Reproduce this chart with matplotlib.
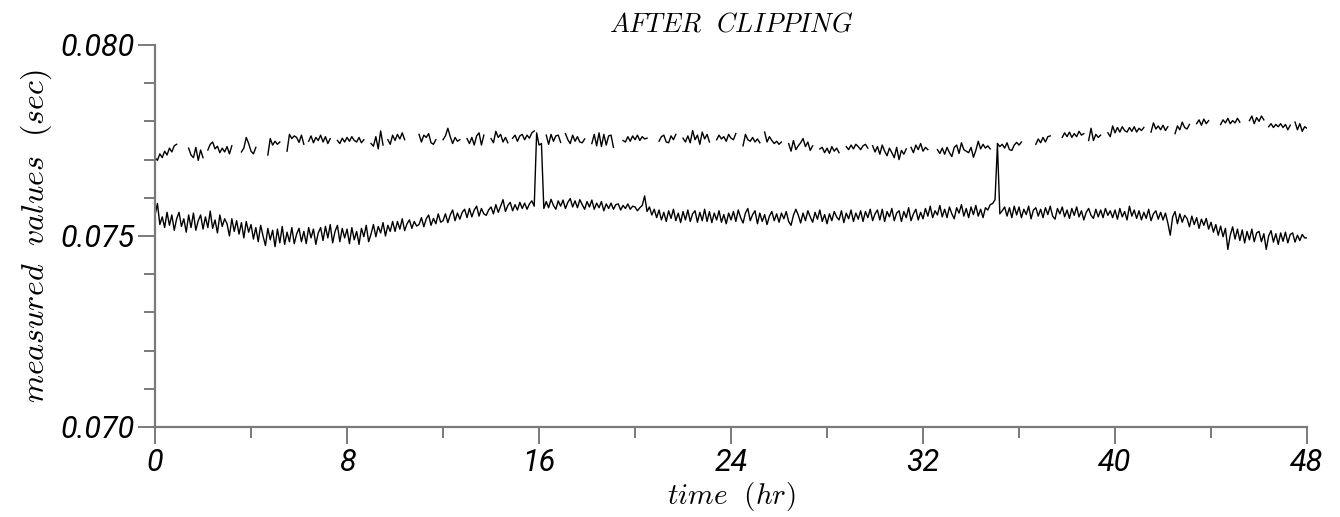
import numpy as np
import matplotlib
matplotlib.use('Agg')
import matplotlib.pyplot as plt
from matplotlib.ticker import MultipleLocator, FixedLocator

plt.rcParams['mathtext.fontset'] = 'cm'

n = np.nan

# sampled every 0.1 hr, values in ms (one row = one hour)
lower_ms = [
    75.55, 75.85, 75.30, 75.50, 75.22, 75.62, 75.28, 75.55, 75.15, 75.45,
    75.62, 75.25, 75.45, 75.10, 75.55, 75.22, 75.60, 75.15, 75.40, 75.55,
    75.18, 75.50, 75.22, 75.65, 75.20, 75.42, 75.08, 75.55, 75.25, 75.45,
    75.32, 75.00, 75.45, 75.12, 75.40, 75.05, 75.35, 74.95, 75.38, 75.10,
    75.30, 74.92, 75.22, 74.85, 75.28, 75.00, 74.75, 75.20, 74.90, 75.15,
    74.72, 75.18, 74.82, 75.25, 74.78, 75.10, 74.85, 75.22, 74.80, 75.05,
    75.20, 74.85, 75.12, 74.80, 75.22, 74.95, 75.18, 74.78, 75.08, 75.22,
    74.88, 75.25, 74.95, 75.30, 74.82, 75.12, 75.28, 74.85, 75.20, 74.95,
    75.18, 74.80, 75.22, 74.90, 75.12, 74.78, 75.20, 74.98, 75.28, 74.85,
    75.05, 75.30, 74.98, 75.25, 75.08, 75.35, 75.00, 75.28, 75.12, 75.38,
    75.12, 75.38, 75.18, 75.45, 75.14, 75.32, 75.42, 75.20, 75.38, 75.26,
    75.30, 75.48, 75.24, 75.45, 75.55, 75.28, 75.46, 75.32, 75.58, 75.36,
    75.40, 75.58, 75.35, 75.55, 75.68, 75.40, 75.60, 75.44, 75.62, 75.70,
    75.48, 75.72, 75.50, 75.68, 75.78, 75.52, 75.72, 75.58, 75.54, 75.68,
    75.76, 75.58, 75.82, 75.62, 75.78, 75.95, 75.64, 75.80, 75.88, 75.66,
    75.82, 75.68, 75.88, 75.72, 75.86, 75.70, 75.84, 75.92, 75.78, 77.70,
    77.38, 77.42, 75.72, 75.90, 75.74, 75.96, 75.80, 75.70, 75.92, 75.78,
    75.94, 75.72, 75.88, 75.98, 75.76, 75.92, 75.74, 75.95, 75.82, 75.70,
    75.90, 75.76, 75.94, 75.70, 75.86, 75.74, 75.90, 75.66, 75.84, 75.72,
    75.86, 75.70, 75.82, 75.84, 75.68, 75.80, 75.72, 75.84, 75.70, 75.78,
    75.76, 75.66, 75.74, 75.80, 76.05, 75.64, 75.76, 75.55, 75.70, 75.48,
    75.68, 75.42, 75.62, 75.38, 75.66, 75.46, 75.70, 75.40, 75.60, 75.35,
    75.64, 75.42, 75.68, 75.38, 75.58, 75.66, 75.36, 75.62, 75.40, 75.70,
    75.38, 75.64, 75.35, 75.60, 75.42, 75.66, 75.36, 75.56, 75.32, 75.60,
    75.42, 75.64, 75.38, 75.68, 75.48, 75.34, 75.60, 75.72, 75.40, 75.56,
    75.66, 75.32, 75.60, 75.38, 75.56, 75.30, 75.52, 75.64, 75.40, 75.58,
    75.36, 75.60, 75.45, 75.64, 75.38, 75.28, 75.54, 75.70, 75.55, 75.34,
    75.60, 75.40, 75.66, 75.50, 75.36, 75.62, 75.44, 75.68, 75.38, 75.56,
    75.32, 75.58, 75.40, 75.64, 75.50, 75.42, 75.66, 75.35, 75.60, 75.45,
    75.68, 75.38, 75.60, 75.44, 75.66, 75.38, 75.64, 75.48, 75.70, 75.40,
    75.58, 75.68, 75.42, 75.70, 75.38, 75.64, 75.50, 75.72, 75.40, 75.60,
    75.66, 75.38, 75.64, 75.48, 75.74, 75.40, 75.58, 75.70, 75.42, 75.62,
    75.45, 75.72, 75.52, 75.78, 75.48, 75.66, 75.55, 75.80, 75.50, 75.70,
    75.48, 75.76, 75.58, 75.45, 75.74, 75.60, 75.82, 75.52, 75.72, 75.48,
    75.76, 75.56, 75.80, 75.52, 75.70, 75.48, 75.74, 75.68, 75.82, 75.85,
    75.95, 77.40, 75.58, 75.66, 75.76, 75.52, 75.74, 75.48, 75.78, 75.55,
    75.76, 75.48, 75.70, 75.56, 75.78, 75.45, 75.68, 75.74, 75.52, 75.70,
    75.48, 75.74, 75.56, 75.78, 75.52, 75.44, 75.72, 75.58, 75.76, 75.50,
    75.68, 75.46, 75.72, 75.54, 75.76, 75.50, 75.66, 75.42, 75.62, 75.72,
    75.54, 75.46, 75.70, 75.50, 75.68, 75.48, 75.72, 75.54, 75.66, 75.48,
    75.68, 75.44, 75.72, 75.50, 75.64, 75.42, 75.78, 75.52, 75.68, 75.46,
    75.66, 75.42, 75.62, 75.46, 75.70, 75.40, 75.58, 75.66, 75.44, 75.62,
    75.42, 75.60, 75.34, 75.02, 75.50, 75.64, 75.32, 75.58, 75.36, 75.54,
    75.46, 75.24, 75.52, 75.30, 75.48, 75.20, 75.44, 75.28, 75.46, 75.18,
    75.36, 75.10, 75.30, 75.02, 75.26, 74.98, 75.20, 74.65, 75.02, 75.24,
    74.92, 75.18, 74.88, 75.16, 74.82, 75.12, 74.90, 75.18, 74.85, 75.08,
    75.12, 74.85, 75.06, 74.65, 75.00, 75.14, 74.84, 75.06, 74.78, 75.08,
    74.86, 75.10, 74.82, 75.04, 75.08, 74.84, 75.02, 74.88, 75.04, 74.95,
    74.95,
]

# clipped samples are left out (nan)
upper_ms = [
    77.05, 76.98, 77.15, 77.05, 77.22, 77.12, 77.30, 77.20, 77.36, 77.40,
    n, n, n, n, 77.30, 77.12, 77.05, 77.32, 76.98, 77.25,
    77.05, n, 77.25, 77.40, 77.46, 77.28, 77.35, 77.18, 77.30, 77.20,
    77.34, 77.15, 77.36, n, n, n, 77.20, 77.30, 77.58, 77.42,
    77.22, 77.15, 77.32, n, n, n, n, 77.12, 77.55, 77.38,
    77.48, 77.40, 77.46, n, n, 77.22, 77.66, 77.55, 77.62, 77.58,
    77.45, 77.64, 77.40, n, 77.48, 77.62, 77.44, 77.58, 77.50, 77.64,
    77.46, 77.60, 77.42, 77.55, n, n, 77.50, 77.42, 77.56, 77.46,
    77.58, 77.48, 77.60, 77.50, 77.46, 77.58, 77.44, 77.52, n, n,
    77.42, 77.35, 77.60, 77.28, 77.75, 77.38, n, 77.52, 77.40, 77.64,
    77.50, 77.66, 77.54, 77.70, 77.52, n, n, n, n, n,
    77.66, 77.46, 77.64, 77.58, 77.68, 77.44, 77.40, 77.52, n, n,
    77.52, 77.62, 77.82, 77.60, 77.42, 77.58, 77.48, 77.52, n, n,
    77.55, 77.42, 77.58, 77.38, 77.62, 77.70, 77.38, 77.64, n, n,
    77.55, 77.44, 77.74, 77.58, 77.66, 77.46, 77.58, 77.44, n, 77.56,
    77.64, 77.48, 77.62, 77.66, 77.52, 77.64, 77.56, 77.70, 77.75, n,
    n, n, n, 77.64, 77.40, 77.66, 77.48, 77.62, 77.64, 77.45,
    n, 77.68, 77.52, 77.42, 77.64, 77.48, 77.60, 77.46, 77.44, 77.54,
    n, n, 77.42, 77.66, 77.36, 77.70, 77.34, 77.66, 77.38, 77.62,
    77.64, 77.32, n, n, n, 77.50, 77.46, 77.60, 77.48, 77.62,
    77.52, 77.64, 77.50, 77.60, 77.54, 77.56, n, n, n, n,
    77.48, 77.60, 77.64, 77.46, 77.44, 77.62, 77.52, 77.66, n, n,
    77.56, 77.46, 77.62, 77.44, 77.76, 77.52, 77.64, 77.40, 77.72, 77.54,
    77.66, 77.46, n, n, 77.52, 77.64, 77.54, 77.60, 77.48, 77.66,
    77.56, 77.52, 77.68, n, n, 77.36, 77.66, 77.52, 77.48, 77.58,
    77.46, 77.54, 77.44, n, 77.72, 77.46, 77.60, 77.50, 77.42, 77.48,
    77.40, 77.46, n, n, 77.42, 77.22, 77.50, 77.26, 77.36, 77.44,
    77.55, 77.34, 77.46, 77.24, 77.36, n, n, 77.28, 77.32, 77.18,
    77.30, 77.16, 77.34, 77.22, 77.30, 77.18, n, n, 77.34, 77.26,
    77.38, 77.28, 77.40, 77.34, 77.26, 77.36, 77.40, 77.30, n, 77.36,
    77.20, 77.34, 77.14, 77.38, 77.22, 77.10, 77.30, 77.18, 77.05, 77.32,
    77.00, 77.24, 77.14, 77.28, n, 77.32, 77.18, 77.38, 77.26, 77.42,
    77.22, 77.32, 77.26, n, n, n, 77.26, 77.16, 77.30, 77.14,
    77.32, 77.18, 77.08, 77.32, 77.38, 77.16, 77.44, 77.26, 77.22, 77.18,
    77.32, 77.06, 77.24, 77.48, 77.28, 77.40, 77.30, 77.36, 77.28, n,
    n, 77.42, 77.34, 77.40, 77.30, 77.44, 77.26, 77.24, 77.38, 77.45,
    77.38, 77.46, n, n, n, n, n, 77.40, 77.54, 77.44,
    77.58, 77.46, 77.60, 77.62, n, n, n, n, 77.58, 77.70,
    77.60, 77.72, 77.58, 77.68, 77.60, 77.74, 77.64, 77.68, n, 77.50,
    77.82, 77.50, 77.66, 77.58, 77.64, n, n, 77.70, 77.60, 77.88,
    77.70, 77.84, 77.72, 77.86, 77.76, 77.72, 77.84, 77.74, 77.86, 77.72,
    77.82, 77.76, 77.84, n, n, 77.72, 77.96, 77.80, 77.88, 77.78,
    77.90, 77.76, 77.86, n, n, 77.68, 77.88, 77.78, 77.98, 77.84,
    77.80, 77.92, n, n, 77.94, 78.04, 77.90, 78.06, 77.94, 78.02,
    n, n, n, n, 77.92, 78.04, 77.96, 78.08, 77.94, 78.02,
    77.96, 78.08, 77.98, n, n, n, 78.02, 78.14, 77.94, 78.10,
    78.00, 78.14, 78.04, n, 77.86, 77.94, 77.84, 77.92, 77.86, 77.94,
    77.84, 77.92, 77.78, 77.90, n, 77.98, 77.78, 77.94, 77.74, 77.86,
    77.82,
]

time_hr = np.arange(len(lower_ms)) / 10.0
lower = np.array(lower_ms) / 1000.0
upper = np.array(upper_ms) / 1000.0

gray = '#7a7a7a'

fig = plt.figure(figsize=(13.4, 5.17), dpi=100)
ax = fig.add_axes([0.1157, 0.1741, 0.8597, 0.7389])

ax.plot(time_hr, upper, color='black', lw=1.0)
ax.plot(time_hr, lower, color='black', lw=1.0)

ax.set_xlim(0, 48)
ax.set_ylim(0.070, 0.080)

ax.xaxis.set_major_locator(MultipleLocator(8))
ax.xaxis.set_minor_locator(MultipleLocator(4))
ax.yaxis.set_major_locator(FixedLocator([0.070, 0.075, 0.080]))
ax.yaxis.set_minor_locator(MultipleLocator(0.001))
ax.set_yticklabels(['0.070', '0.075', '0.080'])

for s in ['top', 'right']:
    ax.spines[s].set_visible(False)
for s in ['left', 'bottom']:
    ax.spines[s].set_color(gray)
    ax.spines[s].set_linewidth(1.6)

ax.tick_params(which='major', direction='out', length=12, width=1.4, color=gray,
               labelsize=22, labelcolor='black', pad=3)
ax.tick_params(which='minor', direction='out', length=8, width=1.4, color=gray)
for lab in ax.get_xticklabels() + ax.get_yticklabels():
    lab.set_family(['Roboto', 'DejaVu Sans'])
    lab.set_weight('normal')
    lab.set_style('italic')

ax.set_xlabel(r'$\mathit{time\ \ (hr)}$', fontsize=21, labelpad=2)
ax.set_ylabel(r'$\mathit{measured\ \ values\ \ (sec)}$', fontsize=23, labelpad=4)
ax.set_title(r'$\mathit{AFTER\ \ CLIPPING}$', fontsize=19, pad=10)

fig.savefig('out.png', dpi=100)
